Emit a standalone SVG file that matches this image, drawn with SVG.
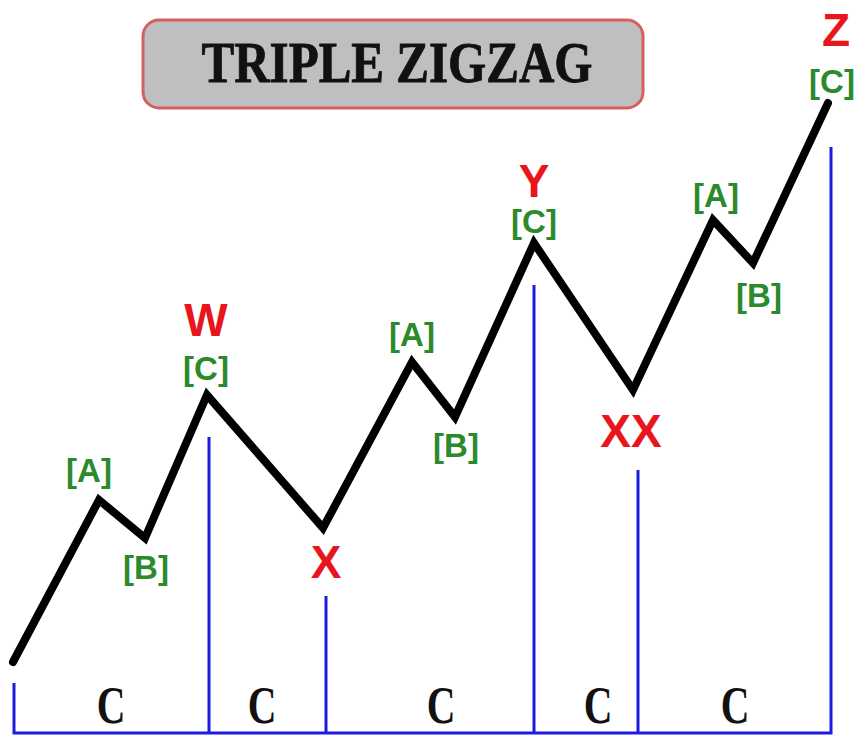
<svg xmlns="http://www.w3.org/2000/svg" width="854" height="736" viewBox="0 0 854 736">
<style>
.g{fill:#2b8a2b;font-family:"Liberation Sans",Arial,sans-serif;font-weight:bold;font-size:33px;text-anchor:middle}
.r{fill:#e8161c;font-family:"Liberation Sans",Arial,sans-serif;font-weight:bold;font-size:46px;text-anchor:middle}
.c{fill:#111;font-family:"Liberation Serif","Times New Roman",serif;font-weight:bold;font-size:53px;text-anchor:middle}
.b{stroke:#1c1ce0;stroke-width:3;fill:none}
</style>
<rect width="854" height="736" fill="#fff"/>
<g id="title">
<rect x="143" y="20" width="500" height="88" rx="16" fill="#bfbfc2" stroke="#d46060" stroke-width="3"/>
<text x="397" y="82" font-family="Liberation Serif,serif" font-weight="bold" font-size="56" text-anchor="middle" textLength="391" lengthAdjust="spacingAndGlyphs" fill="#111" stroke="#111" stroke-width="0.8">TRIPLE ZIGZAG</text>
</g>
<g id="connectors">
<path class="b" d="M14 683V733H831V147M209 437V733M326 596V733M534 285V733M638 470V733"/>
<polyline points="13,662 99,500 145,538 207,395 323,528 412,362 455,417 534,243 633,390 713,220 753,263 828,103" fill="none" stroke="#000" stroke-width="8" stroke-linejoin="miter" stroke-linecap="round"/>
</g>
<g id="labels">
<text class="g" x="89" y="482">[A]</text>
<text class="g" x="146" y="579">[B]</text>
<text class="r" x="206" y="336">W</text>
<text class="g" x="206" y="380">[C]</text>
<text class="r" x="326" y="578">X</text>
<text class="g" x="412" y="346">[A]</text>
<text class="g" x="456" y="457">[B]</text>
<text class="r" x="534" y="197">Y</text>
<text class="g" x="534" y="233">[C]</text>
<text class="r" x="631" y="447" font-size="43">XX</text>
<text class="g" x="716" y="207">[A]</text>
<text class="g" x="759" y="307">[B]</text>
<text class="r" x="836" y="46">Z</text>
<text class="g" x="832" y="93">[C]</text>
</g>
<g id="bottom">
<text class="c" transform="translate(111 723) scale(0.75 1)">C</text>
<text class="c" transform="translate(262 723) scale(0.75 1)">C</text>
<text class="c" transform="translate(441 723) scale(0.75 1)">C</text>
<text class="c" transform="translate(598 723) scale(0.75 1)">C</text>
<text class="c" transform="translate(735 723) scale(0.75 1)">C</text>
</g>
</svg>
